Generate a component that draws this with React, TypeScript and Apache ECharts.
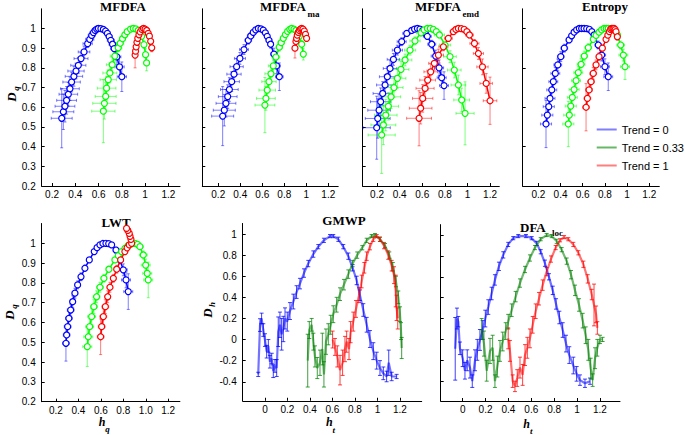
import React, { useEffect, useRef } from 'react';
import * as echarts from 'echarts';

// ---------- DATA ----------
// Top-row / LWT points: [h, D, xErr, yErr]
const mfdfaBlue = [
  [0.283,0.544,0.09,0.15],[0.297,0.577,0.09,0.09],[0.311,0.605,0.085,0.08],[0.325,0.635,0.085,0.07],
  [0.34,0.666,0.08,0.06],[0.354,0.694,0.08,0.06],[0.368,0.728,0.075,0.05],[0.388,0.757,0.075,0.05],
  [0.406,0.784,0.07,0.04],[0.426,0.813,0.065,0.04],[0.449,0.847,0.06,0.03],[0.475,0.881,0.05,0.03],
  [0.506,0.923,0.04,0.02],[0.524,0.945,0.035,0.02],[0.541,0.965,0.03,0.015],[0.556,0.979,0.03,0.01],
  [0.57,0.99,0.025,0.01],[0.584,0.997,0.02,0.01],[0.598,1.0,0.02,0.01],[0.62,0.999,0.02,0.01],
  [0.641,0.995,0.02,0.01],[0.66,0.987,0.02,0.01],[0.676,0.975,0.025,0.015],[0.691,0.959,0.025,0.015],
  [0.705,0.94,0.03,0.02],[0.72,0.92,0.03,0.02],[0.734,0.898,0.03,0.03],[0.757,0.856,0.035,0.04],
  [0.78,0.805,0.04,0.05],[0.8,0.755,0.04,0.075],
];
const mfdfaGreen = [
  [0.641,0.58,0.1,0.16],[0.65,0.62,0.1,0.08],[0.661,0.655,0.09,0.07],[0.669,0.697,0.08,0.06],
  [0.683,0.74,0.07,0.05],[0.697,0.774,0.06,0.05],[0.717,0.816,0.05,0.04],[0.74,0.86,0.04,0.03],
  [0.769,0.902,0.03,0.02],[0.786,0.925,0.03,0.02],[0.806,0.948,0.025,0.015],[0.826,0.968,0.02,0.01],
  [0.846,0.984,0.02,0.01],[0.875,0.997,0.02,0.01],[0.898,1.0,0.02,0.01],[0.92,0.998,0.02,0.01],
  [0.941,0.99,0.02,0.01],[0.957,0.977,0.02,0.01],[0.97,0.96,0.02,0.015],[0.99,0.918,0.02,0.02],
  [1.004,0.867,0.02,0.03],[1.013,0.825,0.02,0.04],
];
const mfdfaRed = [
  [0.914,0.865,0.02,0.065],[0.918,0.885,0.02,0.03],[0.923,0.907,0.02,0.025],[0.93,0.93,0.02,0.02],
  [0.937,0.95,0.02,0.015],[0.947,0.968,0.02,0.01],[0.957,0.983,0.02,0.01],[0.972,0.995,0.02,0.01],
  [0.986,1.0,0.02,0.01],[1.0,0.997,0.02,0.01],[1.014,0.99,0.02,0.01],[1.027,0.975,0.02,0.01],
  [1.037,0.961,0.02,0.015],[1.048,0.935,0.02,0.015],[1.057,0.902,0.02,0.02],
];
const maBlue = [
  [0.24,0.555,0.1,0.15],[0.255,0.585,0.1,0.08],[0.27,0.62,0.09,0.07],[0.286,0.654,0.085,0.06],
  [0.301,0.69,0.08,0.06],[0.322,0.73,0.07,0.05],[0.343,0.768,0.065,0.04],[0.367,0.806,0.06,0.04],
  [0.397,0.848,0.05,0.03],[0.434,0.893,0.04,0.025],[0.473,0.94,0.03,0.02],[0.495,0.962,0.03,0.015],
  [0.518,0.98,0.025,0.01],[0.54,0.993,0.02,0.01],[0.564,1.0,0.02,0.01],[0.588,0.998,0.02,0.01],
  [0.609,0.992,0.02,0.01],[0.628,0.978,0.02,0.01],[0.645,0.96,0.02,0.015],[0.661,0.94,0.025,0.02],
  [0.676,0.92,0.025,0.02],[0.706,0.87,0.03,0.03],[0.73,0.81,0.035,0.04],[0.755,0.755,0.035,0.07],
];
const maGreen = [
  [0.624,0.611,0.09,0.14],[0.633,0.645,0.085,0.06],[0.645,0.687,0.075,0.05],[0.661,0.73,0.065,0.05],
  [0.679,0.77,0.055,0.04],[0.7,0.81,0.045,0.04],[0.724,0.855,0.035,0.03],[0.755,0.905,0.03,0.02],
  [0.772,0.928,0.03,0.02],[0.791,0.95,0.025,0.015],[0.81,0.969,0.02,0.01],[0.83,0.985,0.02,0.01],
  [0.85,0.996,0.02,0.01],[0.867,1.0,0.02,0.01],[0.888,0.997,0.02,0.01],[0.906,0.99,0.02,0.01],
  [0.922,0.977,0.02,0.01],[0.936,0.96,0.02,0.015],[0.958,0.92,0.02,0.02],[0.973,0.87,0.02,0.03],
];
const maRed = [
  [0.897,0.9,0.02,0.05],[0.906,0.934,0.02,0.03],[0.912,0.95,0.02,0.02],[0.918,0.966,0.02,0.02],
  [0.927,0.98,0.02,0.01],[0.936,0.99,0.02,0.01],[0.947,0.997,0.02,0.01],[0.958,1.0,0.02,0.01],
  [0.97,0.997,0.02,0.01],[0.982,0.987,0.02,0.01],[0.993,0.97,0.02,0.01],[1.003,0.95,0.02,0.015],
];
const emdBlue = [
  [0.197,0.496,0.12,0.16],[0.206,0.543,0.11,0.1],[0.218,0.585,0.1,0.08],[0.232,0.628,0.09,0.07],
  [0.25,0.67,0.085,0.06],[0.271,0.713,0.075,0.05],[0.291,0.755,0.07,0.05],[0.315,0.797,0.06,0.04],
  [0.345,0.843,0.055,0.03],[0.38,0.89,0.045,0.025],[0.418,0.933,0.04,0.02],[0.463,0.975,0.035,0.015],
  [0.507,0.99,0.03,0.01],[0.532,0.997,0.03,0.01],[0.557,1.0,0.03,0.01],[0.58,0.997,0.03,0.01],
  [0.604,0.99,0.03,0.01],[0.625,0.977,0.03,0.01],[0.645,0.96,0.035,0.015],[0.684,0.92,0.035,0.02],
  [0.719,0.86,0.04,0.03],[0.749,0.8,0.04,0.04],[0.772,0.75,0.04,0.05],[0.793,0.71,0.04,0.07],
];
const emdGreen = [
  [0.241,0.459,0.12,0.195],[0.256,0.51,0.11,0.1],[0.277,0.56,0.1,0.08],[0.3,0.605,0.09,0.07],
  [0.324,0.653,0.085,0.06],[0.35,0.7,0.08,0.05],[0.38,0.747,0.075,0.05],[0.412,0.792,0.07,0.04],
  [0.448,0.84,0.06,0.03],[0.492,0.89,0.05,0.025],[0.536,0.937,0.045,0.02],[0.589,0.978,0.04,0.015],
  [0.617,0.993,0.04,0.01],[0.645,1.0,0.04,0.01],[0.672,1.0,0.04,0.01],[0.698,0.996,0.04,0.01],
  [0.725,0.984,0.04,0.01],[0.752,0.967,0.045,0.015],[0.802,0.916,0.05,0.02],[0.846,0.857,0.055,0.03],
  [0.884,0.789,0.06,0.04],[0.92,0.713,0.065,0.05],[0.949,0.637,0.07,0.06],[0.979,0.569,0.08,0.16],
];
const emdRed = [
  [0.572,0.544,0.11,0.14],[0.586,0.595,0.1,0.08],[0.604,0.645,0.09,0.07],[0.625,0.696,0.08,0.06],
  [0.648,0.738,0.07,0.05],[0.675,0.78,0.06,0.04],[0.707,0.823,0.05,0.035],[0.743,0.865,0.045,0.03],
  [0.787,0.907,0.04,0.02],[0.831,0.95,0.035,0.015],[0.876,0.984,0.03,0.01],[0.898,0.995,0.03,0.01],
  [0.92,1.0,0.03,0.01],[0.946,0.999,0.03,0.01],[0.971,0.996,0.03,0.01],[0.995,0.984,0.03,0.01],
  [1.018,0.967,0.035,0.015],[1.062,0.924,0.04,0.02],[1.097,0.873,0.045,0.03],[1.133,0.805,0.05,0.04],
  [1.166,0.721,0.055,0.05],[1.2,0.633,0.06,0.12],
];
const entBlue = [
  [0.269,0.515,0.05,0.12],[0.281,0.56,0.05,0.05],[0.294,0.603,0.05,0.05],[0.305,0.645,0.045,0.04],
  [0.321,0.688,0.045,0.04],[0.335,0.73,0.04,0.035],[0.353,0.772,0.04,0.03],[0.375,0.815,0.035,0.03],
  [0.402,0.857,0.03,0.025],[0.434,0.9,0.03,0.02],[0.477,0.942,0.025,0.015],[0.5,0.963,0.02,0.01],
  [0.522,0.981,0.02,0.01],[0.545,0.993,0.02,0.01],[0.569,1.0,0.02,0.01],[0.59,1.0,0.02,0.01],
  [0.612,1.0,0.02,0.01],[0.636,0.999,0.02,0.01],[0.66,0.996,0.02,0.01],[0.682,0.984,0.02,0.01],
  [0.702,0.967,0.025,0.015],[0.74,0.916,0.03,0.02],[0.771,0.865,0.035,0.03],[0.8,0.806,0.04,0.04],
  [0.83,0.755,0.04,0.07],
];
const entGreen = [
  [0.47,0.515,0.05,0.115],[0.479,0.56,0.05,0.05],[0.492,0.606,0.05,0.05],[0.506,0.65,0.045,0.04],
  [0.522,0.69,0.045,0.04],[0.54,0.735,0.04,0.035],[0.56,0.776,0.04,0.03],[0.585,0.818,0.035,0.03],
  [0.614,0.86,0.03,0.025],[0.65,0.903,0.03,0.02],[0.695,0.945,0.025,0.015],[0.72,0.965,0.02,0.01],
  [0.747,0.981,0.02,0.01],[0.77,0.993,0.02,0.01],[0.792,1.0,0.02,0.01],[0.812,1.0,0.02,0.01],
  [0.83,1.0,0.02,0.01],[0.853,0.999,0.025,0.01],[0.876,0.996,0.025,0.01],[0.912,0.967,0.03,0.015],
  [0.942,0.916,0.035,0.02],[0.966,0.865,0.04,0.03],[0.981,0.806,0.04,0.065],
];
const entRed = [
  [0.63,0.6,0.03,0.12],[0.642,0.645,0.03,0.05],[0.657,0.688,0.03,0.04],[0.675,0.73,0.03,0.035],
  [0.695,0.772,0.03,0.03],[0.72,0.815,0.025,0.025],[0.747,0.857,0.025,0.02],[0.777,0.9,0.02,0.015],
  [0.81,0.945,0.02,0.01],[0.826,0.966,0.02,0.01],[0.84,0.984,0.02,0.01],[0.851,0.995,0.02,0.01],
  [0.861,1.0,0.02,0.01],[0.872,1.0,0.02,0.01],[0.882,1.0,0.02,0.01],[0.892,0.994,0.02,0.01],
  [0.9,0.984,0.02,0.01],[0.912,0.958,0.02,0.015],
];
const lwtBlue = [
  [0.289,0.495,0.03,0.09],[0.295,0.537,0.03,0.04],[0.304,0.579,0.03,0.04],[0.315,0.621,0.03,0.035],
  [0.331,0.663,0.03,0.03],[0.349,0.705,0.025,0.03],[0.369,0.748,0.025,0.025],[0.393,0.79,0.02,0.02],
  [0.423,0.831,0.02,0.02],[0.458,0.874,0.02,0.015],[0.497,0.916,0.02,0.01],[0.541,0.958,0.02,0.01],
  [0.566,0.978,0.02,0.01],[0.592,0.992,0.02,0.01],[0.618,0.999,0.02,0.01],[0.645,1.0,0.02,0.01],
  [0.67,0.998,0.02,0.01],[0.696,0.992,0.02,0.01],[0.735,0.966,0.025,0.015],[0.77,0.916,0.03,0.02],
  [0.8,0.866,0.035,0.03],[0.824,0.815,0.04,0.04],[0.844,0.756,0.04,0.09],
];
const lwtGreen = [
  [0.479,0.478,0.04,0.1],[0.488,0.528,0.04,0.05],[0.5,0.579,0.035,0.04],[0.518,0.63,0.035,0.04],
  [0.538,0.68,0.03,0.035],[0.562,0.73,0.03,0.03],[0.592,0.778,0.03,0.025],[0.627,0.823,0.025,0.02],
  [0.672,0.869,0.025,0.015],[0.725,0.916,0.02,0.01],[0.755,0.938,0.02,0.01],[0.785,0.958,0.02,0.01],
  [0.815,0.975,0.02,0.01],[0.844,0.989,0.02,0.01],[0.874,0.997,0.02,0.01],[0.904,1.0,0.02,0.01],
  [0.927,0.995,0.025,0.01],[0.948,0.983,0.03,0.015],[0.978,0.941,0.035,0.02],[0.999,0.89,0.04,0.03],
  [1.013,0.848,0.04,0.04],[1.022,0.815,0.04,0.09],
];
const lwtRed = [
  [0.598,0.528,0.03,0.09],[0.607,0.579,0.03,0.04],[0.622,0.63,0.03,0.04],[0.64,0.68,0.03,0.035],
  [0.661,0.73,0.025,0.03],[0.681,0.778,0.025,0.025],[0.711,0.823,0.025,0.02],[0.741,0.869,0.02,0.02],
  [0.776,0.916,0.02,0.015],[0.814,0.958,0.02,0.01],[0.834,0.977,0.02,0.01],[0.853,0.992,0.02,0.01],
  [0.874,1.0,0.02,0.01],[0.868,1.02,0.02,0.01],[0.86,1.035,0.02,0.01],[0.853,1.05,0.02,0.01],
  [0.84,1.065,0.02,0.01],[0.829,1.075,0.02,0.01],
];
// GMWP / DFA_loc points: [h, D, yErr]
const gmwpBlue = [
  [-0.06,-0.33,0.02],[-0.044,0.137,0.06],[-0.03,0.2,0.05],[-0.015,0.09,0.06],[0.0,-0.005,0.06],
  [0.015,-0.115,0.06],[0.03,-0.06,0.06],[0.044,-0.21,0.06],[0.06,-0.18,0.05],[0.074,-0.3,0.06],
  [0.089,-0.25,0.06],[0.104,-0.27,0.08],[0.118,0.074,0.14],[0.133,0.14,0.12],[0.148,0.05,0.15],
  [0.163,0.1,0.12],[0.178,0.2,0.1],[0.198,0.17,0.09],[0.222,0.27,0.08],[0.252,0.36,0.07],
  [0.281,0.45,0.06],[0.311,0.53,0.05],[0.347,0.63,0.04],[0.385,0.72,0.03],[0.43,0.81,0.03],
  [0.474,0.88,0.02],[0.524,0.94,0.02],[0.578,0.98,0.015],[0.607,0.98,0.015],[0.652,0.95,0.02],
  [0.696,0.88,0.02],[0.741,0.79,0.03],[0.779,0.68,0.03],[0.815,0.56,0.04],[0.844,0.42,0.05],
  [0.874,0.28,0.06],[0.904,0.14,0.07],[0.933,0.005,0.08],[0.963,-0.11,0.08],[0.993,-0.2,0.08],
  [1.022,-0.27,0.07],[1.052,-0.32,0.06],[1.081,-0.35,0.05],[1.1,-0.22,0.12],[1.126,-0.35,0.04],
  [1.17,-0.35,0.02],
];
const gmwpGreen = [
  [0.38,-0.2,0.25],[0.394,0.09,0.08],[0.415,0.14,0.06],[0.43,-0.02,0.08],[0.444,-0.16,0.1],
  [0.465,-0.27,0.1],[0.489,-0.22,0.12],[0.51,-0.09,0.15],[0.524,-0.33,0.12],[0.542,-0.02,0.12],
  [0.563,0.05,0.1],[0.584,0.14,0.09],[0.607,0.24,0.08],[0.637,0.33,0.07],[0.667,0.43,0.06],
  [0.702,0.52,0.05],[0.741,0.62,0.04],[0.779,0.72,0.03],[0.82,0.8,0.03],[0.865,0.87,0.02],
  [0.904,0.94,0.02],[0.948,0.98,0.015],[0.978,0.99,0.015],[1.022,0.95,0.02],[1.067,0.89,0.02],
  [1.105,0.8,0.03],[1.136,0.69,0.04],[1.164,0.55,0.05],[1.185,0.4,0.06],[1.2,0.24,0.07],
  [1.209,0.08,0.08],[1.215,-0.08,0.1],
];
const gmwpRed = [
  [0.601,0.0,0.08],[0.622,-0.07,0.08],[0.643,-0.16,0.1],[0.667,-0.29,0.14],[0.69,-0.22,0.12],
  [0.711,-0.09,0.12],[0.726,-0.02,0.1],[0.747,-0.09,0.1],[0.761,0.07,0.1],[0.785,0.17,0.09],
  [0.809,0.29,0.08],[0.836,0.42,0.07],[0.859,0.55,0.06],[0.883,0.68,0.05],[0.904,0.79,0.04],
  [0.933,0.88,0.03],[0.963,0.95,0.02],[0.993,0.98,0.015],[1.022,0.95,0.02],[1.058,0.89,0.03],
  [1.096,0.8,0.04],[1.126,0.7,0.05],[1.147,0.61,0.08],[1.162,0.46,0.15],[1.17,0.3,0.12],
  [1.18,0.2,0.1],
];
const dfaBlue = [
  [-0.065,-0.09,0.3],[-0.05,0.2,0.1],[-0.038,0.17,0.05],[-0.024,-0.085,0.06],[0.0,-0.18,0.08],
  [0.02,-0.3,0.08],[0.04,-0.2,0.1],[0.064,-0.27,0.1],[0.084,-0.4,0.06],[0.108,-0.2,0.1],
  [0.128,-0.1,0.1],[0.151,-0.005,0.1],[0.175,0.09,0.09],[0.198,0.2,0.08],[0.224,0.31,0.07],
  [0.253,0.44,0.06],[0.282,0.57,0.05],[0.317,0.7,0.04],[0.355,0.81,0.03],[0.398,0.91,0.02],
  [0.442,0.97,0.015],[0.486,0.99,0.015],[0.553,0.99,0.015],[0.603,0.97,0.015],[0.647,0.92,0.02],
  [0.682,0.84,0.02],[0.719,0.73,0.03],[0.754,0.6,0.03],[0.787,0.47,0.04],[0.816,0.34,0.05],
  [0.845,0.21,0.06],[0.874,0.09,0.07],[0.903,-0.04,0.08],[0.932,-0.15,0.08],[0.967,-0.25,0.08],
  [0.996,-0.33,0.07],[1.025,-0.39,0.05],[1.069,-0.42,0.04],[1.113,-0.4,0.03],
];
const dfaGreen = [
  [0.166,0.1,0.1],[0.186,-0.04,0.12],[0.21,-0.3,0.1],[0.239,-0.11,0.12],[0.262,-0.08,0.12],
  [0.282,-0.4,0.06],[0.303,-0.26,0.1],[0.326,-0.11,0.1],[0.35,-0.02,0.09],[0.376,0.08,0.08],
  [0.398,0.17,0.07],[0.428,0.28,0.06],[0.463,0.41,0.05],[0.501,0.54,0.04],[0.545,0.67,0.03],
  [0.588,0.78,0.03],[0.632,0.88,0.02],[0.682,0.96,0.015],[0.734,1.0,0.015],[0.778,0.99,0.015],
  [0.822,0.94,0.02],[0.865,0.86,0.02],[0.909,0.75,0.03],[0.947,0.62,0.04],[0.982,0.47,0.05],
  [1.017,0.33,0.06],[1.049,0.18,0.07],[1.075,0.04,0.08],[1.098,-0.1,0.1],[1.119,-0.28,0.1],
  [1.136,-0.39,0.06],[1.157,-0.18,0.1],[1.177,-0.08,0.08],[1.2,0.0,0.04],[1.223,0.0,0.02],
];
const dfaRed = [
  [0.398,0.01,0.1],[0.413,-0.11,0.1],[0.437,-0.4,0.06],[0.457,-0.45,0.05],[0.477,-0.37,0.08],
  [0.501,-0.27,0.1],[0.524,-0.34,0.1],[0.545,-0.15,0.1],[0.565,-0.08,0.1],[0.588,0.01,0.09],
  [0.612,0.14,0.08],[0.638,0.27,0.07],[0.667,0.39,0.06],[0.699,0.52,0.05],[0.734,0.65,0.04],
  [0.772,0.77,0.03],[0.813,0.88,0.02],[0.851,0.95,0.015],[0.886,0.98,0.015],[0.923,0.96,0.015],
  [0.967,0.91,0.02],[1.011,0.83,0.02],[1.055,0.72,0.03],[1.093,0.58,0.04],[1.128,0.43,0.05],
  [1.148,0.33,0.2],[1.166,0.24,0.08],[1.177,0.11,0.06],
];

const trendNames = ['Trend = 0', 'Trend = 0.33', 'Trend = 1'];

const xTicksTop = [0.2, 0.4, 0.6, 0.8, 1.0, 1.2];
const xLabelsTop = ['0.2', '0.4', '0.6', '0.8', '1', '1.2'];
const xLabelsLwt = ['0.2', '0.4', '0.6', '0.8', '1.0', '1.2'];
const yTicksTop = [0.2, 0.3, 0.4, 0.5, 0.6, 0.7, 0.8, 0.9, 1.0];
const yLabelsTop = ['0.2', '0.3', '0.4', '0.5', '0.6', '0.7', '0.8', '0.9', '1'];
const yTicksEntropy = [0.2, 0.4, 0.6, 0.8, 1.0];
const xTicksBottom = [0, 0.2, 0.4, 0.6, 0.8, 1.0, 1.2];
const xLabelsBottom = ['0', '0.2', '0.4', '0.6', '0.8', '1', '1.2'];
const yTicksBottom = [-0.4, -0.2, 0, 0.2, 0.4, 0.6, 0.8, 1.0];
const yLabelsBottom = ['-0.4', '-0.2', '0', '0.2', '0.4', '0.6', '0.8', '1'];

// ---------- STYLE / LAYOUT ----------
const TOP_COLORS = ['#0000ff', '#00ff00', '#ff0000'];
const BOT_COLORS = ['#0000ff', '#008000', '#ff0000'];
const LEGEND_COLORS = ['#7f7fff', '#66b866', '#ff7f7f'];
const SANS = "'Liberation Sans', Arial, Helvetica, sans-serif";
const SERIF = "'Liberation Serif', 'Times New Roman', serif";

const panels = [
  { l: 41.7, t: 8.8, w: 138.3, h: 177.2, xmin: 0.111, xmax: 1.3, ymin: 0.2, ymax: 1.1 },
  { l: 202.3, t: 8.8, w: 135.9, h: 177.2, xmin: 0.055, xmax: 1.29, ymin: 0.2, ymax: 1.1 },
  { l: 362.7, t: 8.8, w: 136.6, h: 177.2, xmin: 0.073, xmax: 1.282, ymin: 0.2, ymax: 1.1 },
  { l: 522.7, t: 8.8, w: 136.6, h: 177.2, xmin: 0.059, xmax: 1.29, ymin: 0.2, ymax: 1.1 },
  { l: 41.7, t: 223.5, w: 138.2, h: 178.2, xmin: 0.073, xmax: 1.304, ymin: 0.2, ymax: 1.1 },
  { l: 242.7, t: 223.45, w: 179, h: 177.3, xmin: -0.198, xmax: 1.393, ymin: -0.58, ymax: 1.1 },
  { l: 440.7, t: 224.6, w: 179.3, h: 176.4, xmin: -0.192, xmax: 1.375, ymin: -0.59, ymax: 1.1 },
];

const fmtFrom = (ticks: number[], labels: string[]) => (v: number) => {
  const i = ticks.findIndex((t) => Math.abs(t - v) < 1e-6);
  return i >= 0 ? labels[i] : '';
};

function makeAxis(kind: 'x' | 'y', idx: number, min: number, max: number, ticks: number[], labels: string[] | null) {
  return {
    type: 'value',
    gridIndex: idx,
    min,
    max,
    axisLine: { show: true, onZero: false, lineStyle: { color: '#000', width: 1 } },
    axisTick: { show: true, inside: true, length: 3, customValues: ticks, lineStyle: { color: '#000', width: 1 } },
    axisLabel: {
      show: !!labels,
      customValues: ticks,
      formatter: labels ? fmtFrom(ticks, labels) : () => '',
      fontSize: 10,
      fontFamily: SANS,
      color: '#000',
      margin: kind === 'x' ? 3 : 6,
      lineHeight: 11,
    },
    splitLine: { show: false },
  };
}

function errSeries(name: string, data: number[][], idx: number, color: string, opacity: number, withX: boolean) {
  return {
    type: 'custom',
    name,
    xAxisIndex: idx,
    yAxisIndex: idx,
    data,
    encode: { x: 0, y: 1 },
    silent: true,
    clip: false,
    renderItem: (_p: any, api: any) => {
      const h = api.value(0);
      const d = api.value(1);
      const ex = withX ? api.value(2) : 0;
      const ey = withX ? api.value(3) : api.value(2);
      const cap = withX ? 1.5 : 2;
      const st = { stroke: color, lineWidth: 1, opacity };
      const children: any[] = [];
      const top = api.coord([h, d + ey]);
      const bot = api.coord([h, d - ey]);
      children.push({ type: 'line', shape: { x1: top[0], y1: top[1], x2: bot[0], y2: bot[1] }, style: st });
      children.push({ type: 'line', shape: { x1: top[0] - cap, y1: top[1], x2: top[0] + cap, y2: top[1] }, style: st });
      children.push({ type: 'line', shape: { x1: bot[0] - cap, y1: bot[1], x2: bot[0] + cap, y2: bot[1] }, style: st });
      if (withX && ex > 0) {
        const lp = api.coord([h - ex, d]);
        const rp = api.coord([h + ex, d]);
        children.push({ type: 'line', shape: { x1: lp[0], y1: lp[1], x2: rp[0], y2: rp[1] }, style: st });
        children.push({ type: 'line', shape: { x1: lp[0], y1: lp[1] - cap, x2: lp[0], y2: lp[1] + cap }, style: st });
        children.push({ type: 'line', shape: { x1: rp[0], y1: rp[1] - cap, x2: rp[0], y2: rp[1] + cap }, style: st });
      }
      return { type: 'group', children };
    },
  };
}

function markerSeries(name: string, data: number[][], idx: number, color: string) {
  return {
    type: 'line',
    name,
    xAxisIndex: idx,
    yAxisIndex: idx,
    data: data.map((p) => [p[0], p[1]]),
    symbol: 'circle',
    symbolSize: 6,
    showAllSymbol: true,
    silent: true,
    itemStyle: { color: '#ffffff', borderColor: color, borderWidth: 1.2 },
    lineStyle: { color, width: 1.5 },
  };
}

function plainLine(name: string, data: number[][], idx: number, color: string) {
  return {
    type: 'line',
    name,
    xAxisIndex: idx,
    yAxisIndex: idx,
    data: data.map((p) => [p[0], p[1]]),
    symbol: 'none',
    silent: true,
    lineStyle: { color, width: 2.2, opacity: 0.55 },
  };
}

function txt(x: number, y: number, text: string, font: string, align = 'center', rotation = 0) {
  return {
    type: 'text',
    x,
    y,
    rotation,
    silent: true,
    style: { text, font, fill: '#000', align, verticalAlign: 'middle' },
  };
}

export default function App() {
  const ref = useRef<HTMLDivElement>(null);
  useEffect(() => {
    if (!ref.current) return;
    const chart = echarts.init(ref.current, undefined, { renderer: 'svg' });

    const topSets = [
      [mfdfaBlue, mfdfaGreen, mfdfaRed],
      [maBlue, maGreen, maRed],
      [emdBlue, emdGreen, emdRed],
      [entBlue, entGreen, entRed],
      [lwtBlue, lwtGreen, lwtRed],
    ];
    const botSets = [
      [gmwpBlue, gmwpGreen, gmwpRed],
      [dfaBlue, dfaGreen, dfaRed],
    ];

    const series: any[] = [];
    topSets.forEach((set, pi) => {
      set.forEach((d, k) => {
        series.push(errSeries(trendNames[k], d, pi, TOP_COLORS[k], 0.5, true));
        series.push(markerSeries(trendNames[k], d, pi, TOP_COLORS[k]));
      });
    });
    botSets.forEach((set, bi) => {
      const pi = bi + 5;
      set.forEach((d, k) => {
        series.push(plainLine(trendNames[k], d, pi, BOT_COLORS[k]));
        series.push(errSeries(trendNames[k], d, pi, BOT_COLORS[k], 0.75, false));
      });
    });

    const xAxis = panels.map((p, i) => {
      if (i <= 3) return makeAxis('x', i, p.xmin, p.xmax, xTicksTop, xLabelsTop);
      if (i === 4) return makeAxis('x', i, p.xmin, p.xmax, xTicksTop, xLabelsLwt);
      return makeAxis('x', i, p.xmin, p.xmax, xTicksBottom, xLabelsBottom);
    });
    const yAxis = panels.map((p, i) => {
      if (i === 0 || i === 4) return makeAxis('y', i, p.ymin, p.ymax, yTicksTop, yLabelsTop);
      if (i === 1 || i === 2) return makeAxis('y', i, p.ymin, p.ymax, yTicksTop, null);
      if (i === 3) return makeAxis('y', i, p.ymin, p.ymax, yTicksEntropy, null);
      if (i === 5) return makeAxis('y', i, p.ymin, p.ymax, yTicksBottom, yLabelsBottom);
      return makeAxis('y', i, p.ymin, p.ymax, yTicksBottom, null);
    });

    const tFont = `bold 13px ${SERIF}`;
    const subFont = `bold 9px ${SERIF}`;
    const lblFont = `italic bold 12px ${SERIF}`;
    const lblSub = `italic bold 9px ${SERIF}`;
    const R = Math.PI / 2;

    const graphic = [
      txt(123, 6, 'MFDFA', tFont),
      txt(260, 6, 'MFDFA', tFont, 'left'),
      txt(307.5, 13.5, 'ma', subFont, 'left'),
      txt(415, 6, 'MFDFA', tFont, 'left'),
      txt(462.5, 13.5, 'emd', subFont, 'left'),
      txt(605, 6, 'Entropy', tFont),
      txt(116, 222, 'LWT', tFont),
      txt(344, 220, 'GMWP', tFont),
      txt(520, 227.5, 'DFA', tFont, 'left'),
      txt(552, 232.5, 'loc', subFont, 'left'),
      // y axis names
      txt(11.3, 97, 'D', `italic bold 13px ${SERIF}`, 'center', R),
      txt(15.8, 88.5, 'q', lblSub, 'center', R),
      txt(9.2, 315, 'D', `italic bold 13px ${SERIF}`, 'center', R),
      txt(13.5, 306.5, 'q', lblSub, 'center', R),
      txt(207, 313, 'D', `italic bold 13px ${SERIF}`, 'center', R),
      txt(211.5, 304.5, 'h', lblSub, 'center', R),
      // x axis names
      txt(102, 421.5, 'h', lblFont),
      txt(107.5, 429, 'q', lblSub),
      txt(329.3, 422, 'h', lblFont),
      txt(333.8, 429.5, 't', lblSub),
      txt(526.7, 423.5, 'h', lblFont),
      txt(531.2, 431, 't', lblSub),
    ];

    chart.setOption({
      animation: false,
      backgroundColor: '#ffffff',
      grid: panels.map((p) => ({ left: p.l, top: p.t, width: p.w, height: p.h, containLabel: false })),
      xAxis,
      yAxis,
      legend: {
        left: 596.7,
        top: 123.5,
        padding: 0,
        orient: 'vertical',
        icon: 'rect',
        itemWidth: 20,
        itemHeight: 2,
        itemGap: 6,
        selectedMode: false,
        textStyle: { fontSize: 11, fontFamily: SANS, color: '#000', lineHeight: 12 },
        data: trendNames.map((n, i) => ({ name: n, itemStyle: { color: LEGEND_COLORS[i] } })),
      },
      graphic,
      series,
    });
    return () => chart.dispose();
  }, []);

  return (
    <div
      ref={ref}
      style={{ position: 'fixed', left: 0, top: 0, width: 685, height: 435, background: '#fff' }}
    />
  );
}
